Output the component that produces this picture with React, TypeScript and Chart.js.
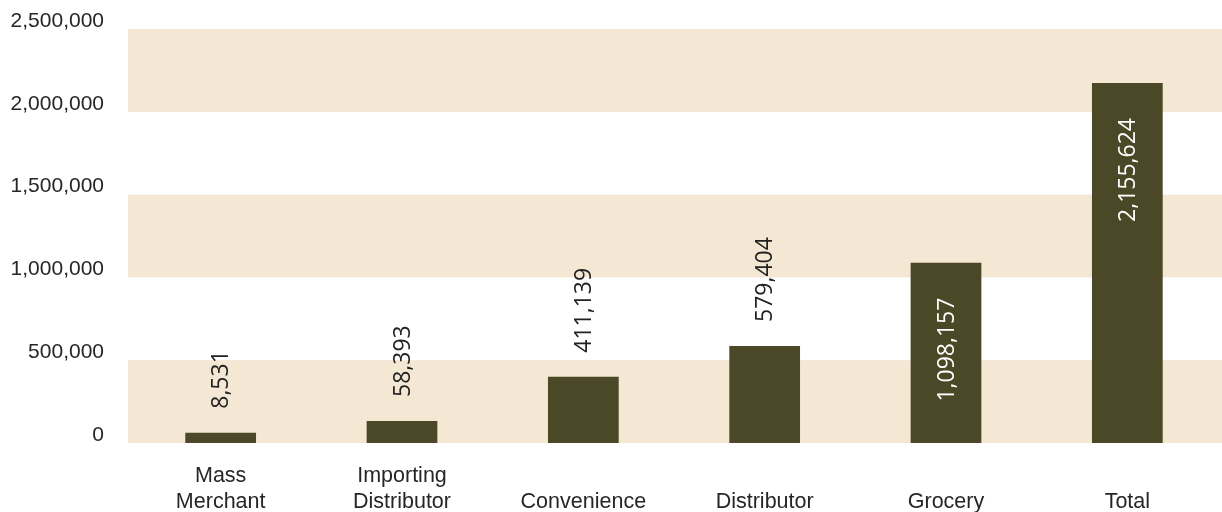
import React, { useEffect, useRef } from "react";
import { Chart, registerables } from "chart.js";

Chart.register(...registerables);

const categories: (string | string[])[] = [
  ["Mass", "Merchant"],
  ["Importing", "Distributor"],
  ["", "Convenience"],
  ["", "Distributor"],
  ["", "Grocery"],
  ["", "Total"],
];
const barValues = [62000, 133000, 400000, 586000, 1089000, 2174000];
const valueLabels = ["8,531", "58,393", "411,139", "579,404", "1,098,157", "2,155,624"];
const yTicks = [0, 500000, 1000000, 1500000, 2000000, 2500000];
const shadedBands: [number, number][] = [
  [0, 500000],
  [1000000, 1500000],
  [2000000, 2500000],
];

const BAND_COLOR = "#f4e7d3";
const BAR_COLOR = "#4a4826";

const bandsPlugin = {
  id: "bands",
  beforeDatasetsDraw(chart: any) {
    const { ctx, chartArea, scales } = chart;
    const y = scales.y;
    ctx.save();
    ctx.fillStyle = BAND_COLOR;
    for (const [a, b] of shadedBands) {
      const y1 = y.getPixelForValue(b);
      const y2 = y.getPixelForValue(a);
      ctx.fillRect(chartArea.left - 2, y1, chart.width - chartArea.left + 2, y2 - y1);
    }
    ctx.restore();
  },
};

const labelsPlugin = {
  id: "valueLabels",
  afterDatasetsDraw(chart: any) {
    const { ctx } = chart;
    const meta = chart.getDatasetMeta(0);
    ctx.save();
    ctx.font = "23px 'Open Sans'";
    ctx.textBaseline = "middle";
    meta.data.forEach((bar: any, i: number) => {
      const h = bar.base - bar.y;
      const inside = h > 150;
      ctx.save();
      if (inside) {
        ctx.translate(bar.x, bar.y + 35);
        ctx.rotate(-Math.PI / 2);
        ctx.textAlign = "right";
        ctx.fillStyle = "#ffffff";
      } else {
        ctx.translate(bar.x, bar.y - 24);
        ctx.rotate(-Math.PI / 2);
        ctx.textAlign = "left";
        ctx.fillStyle = "#222222";
      }
      ctx.fillText(valueLabels[i], 0, 1);
      ctx.restore();
    });
    ctx.restore();
  },
};

export default function App() {
  const ref = useRef<HTMLCanvasElement | null>(null);
  useEffect(() => {
    if (!ref.current) return;
    const chart = new Chart(ref.current, {
      type: "bar",
      data: {
        labels: categories,
        datasets: [
          {
            data: barValues,
            backgroundColor: BAR_COLOR,
            borderWidth: 0,
            barPercentage: 0.39,
            categoryPercentage: 1,
          },
        ],
      },
      options: {
        animation: false,
        responsive: true,
        maintainAspectRatio: false,
        layout: { padding: { top: 29, right: 4, left: 0, bottom: 0 } },
        plugins: { legend: { display: false }, tooltip: { enabled: false } },
        scales: {
          x: {
            grid: { display: false, drawTicks: false },
            border: { display: false },
            afterFit(scale: any) {
              scale.height = 69;
              scale.paddingLeft = 0;
              scale.paddingRight = 0;
            },
            ticks: {
              color: "#262626",
              font: { family: "'Liberation Sans', Arial, sans-serif", size: 21.5, lineHeight: 1.2 },
              padding: 20,
              maxRotation: 0,
              autoSkip: false,
            },
          },
          y: {
            min: 0,
            max: 2500000,
            grid: { display: false, drawTicks: false },
            border: { display: false },
            afterFit(scale: any) {
              scale.width = 130;
              scale.paddingTop = 0;
              scale.paddingBottom = 0;
            },
            afterBuildTicks(scale: any) {
              scale.ticks = yTicks.map((v) => ({ value: v }));
            },
            ticks: {
              color: "#262626",
              font: { family: "'Liberation Sans', Arial, sans-serif", size: 21 },
              padding: 26,
              labelOffset: -8,
              callback: (v: any) => Number(v).toLocaleString("en-US"),
            },
          },
        },
      },
      plugins: [bandsPlugin, labelsPlugin],
    });
    return () => chart.destroy();
  }, []);
  return (
    <div style={{ position: "fixed", left: 0, top: 0, width: 1222, height: 512, background: "#fff" }}>
      <canvas ref={ref} />
    </div>
  );
}
